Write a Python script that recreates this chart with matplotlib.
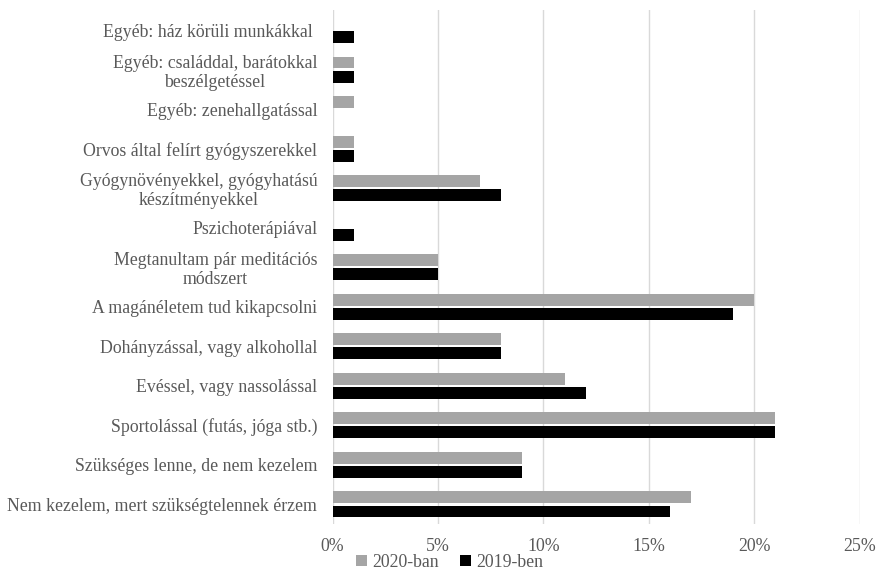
import matplotlib.pyplot as plt
import numpy as np
from matplotlib.ticker import FuncFormatter

categories = [
    "Egyéb: ház körüli munkákkal ",
    "Egyéb: családdal, barátokkal\nbeszélgetéssel",
    "Egyéb: zenehallgatással",
    "Orvos által felírt gyógyszerekkel",
    "Gyógynövényekkel, gyógyhatású\nkészítményekkel",
    "Pszichoterápiával",
    "Megtanultam pár meditációs\nmódszert",
    "A magánéletem tud kikapcsolni",
    "Dohányzással, vagy alkohollal",
    "Evéssel, vagy nassolással",
    "Sportolással (futás, jóga stb.)",
    "Szükséges lenne, de nem kezelem",
    "Nem kezelem, mert szükségtelennek érzem",
]
y2020 = [0, 1, 1, 1, 7, 0, 5, 20, 8, 11, 21, 9, 17]
y2019 = [1, 1, 0, 1, 8, 1, 5, 19, 8, 12, 21, 9, 16]
series_names = ["2020-ban", "2019-ben"]
x_ticks = [0, 5, 10, 15, 20, 25]

plt.rcParams["font.family"] = ["Liberation Serif", "DejaVu Serif"]
text_col = "#595959"
fs = 12.8

fig = plt.figure(figsize=(8.8, 5.71), dpi=100)
ax = fig.add_axes([0.378, 0.082, 0.599, 0.900])

pos = np.arange(len(categories))
h = 0.30
off = 0.178
ax.barh(pos - off, y2020, height=h, color="#a5a5a5", label=series_names[0], zorder=3)
ax.barh(pos + off, y2019, height=h, color="#000000", label=series_names[1], zorder=3)

ax.set_ylim(len(categories) - 0.5, -0.5)
ax.set_xlim(0, 25)
ax.set_xticks(x_ticks)
ax.xaxis.set_major_formatter(FuncFormatter(lambda v, p: f"{v:.0f}%"))
ax.set_yticks(pos)
ax.set_yticklabels(categories)
for t in ax.get_yticklabels():
    t.set_multialignment("center")
    t.set_linespacing(1.15)

ax.grid(axis="x", color="#d9d9d9", linewidth=1, zorder=0)
for s in ax.spines.values():
    s.set_visible(False)
ax.tick_params(axis="both", length=0, labelsize=fs, labelcolor=text_col)
ax.tick_params(axis="y", pad=11)
ax.tick_params(axis="x", pad=10)

fig.legend(loc="center", bbox_to_anchor=(0.511, 0.015), ncol=2, frameon=False,
           fontsize=fs, labelcolor=text_col, handlelength=0.6, handleheight=0.6,
           handletextpad=0.3, columnspacing=1.2, borderpad=0)

fig.savefig("out.png", dpi=100)
